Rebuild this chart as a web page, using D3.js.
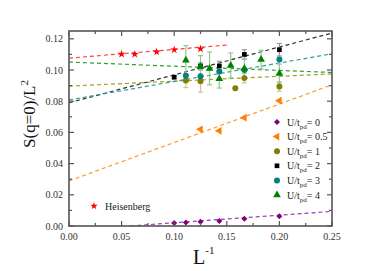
<!DOCTYPE html>
<html>
<head>
<meta charset="utf-8">
<script src="https://cdn.jsdelivr.net/npm/d3@7"></script>
<style>
  body { margin: 0; background: #fff; }
  text { font-family: "Liberation Serif", "DejaVu Serif", serif; }
</style>
</head>
<body>
<div class="chart"></div>
<script>
// DATA ------------------------------------
const xTicks = [0, 0.05, 0.10, 0.15, 0.20, 0.25]
const yTicks = [0, 0.02, 0.04, 0.06, 0.08, 0.10, 0.12]

// Heisenberg
const heisX = [0.05, 0.0625, 0.0833, 0.1, 0.125]
const heisY = [0.1102, 0.1101, 0.1116, 0.1130, 0.1136]
const heisFitX = [0, 0.15]
const heisFitY = [0.1076, 0.1160]

// U/tpd = 0
const u0X = [0.1, 0.1111, 0.125, 0.1429, 0.1667, 0.2]
const u0Y = [0.0019, 0.0022, 0.0028, 0.0032, 0.0047, 0.0062]
const u0FitX = [0.058, 0.25]
const u0FitY = [0, 0.0094]

// U/tpd = 0.5
const u05X = [0.125, 0.1429, 0.1667, 0.2]
const u05Y = [0.0620, 0.0610, 0.0694, 0.0803]
const u05FitX = [0, 0.25]
const u05FitY = [0.0289, 0.0905]

// U/tpd = 1
const u1X = [0.1111, 0.125, 0.1581, 0.1667, 0.2]
const u1Y = [0.0932, 0.0928, 0.0883, 0.0948, 0.0894]
const u1Err = [0.0045, 0.007, 0, 0.003, 0.003]
const u1FitX = [0, 0.25]
const u1FitY = [0.0897, 0.0975]

// U/tpd = 2
const u2X = [0.1, 0.125, 0.1429, 0.1667, 0.2]
const u2Y = [0.0954, 0.1025, 0.1026, 0.1100, 0.1130]
const u2Err = [0.001, 0.002, 0.003, 0.003, 0.004]
const u2FitX = [0, 0.25]
const u2FitY = [0.0790, 0.1237]

// U/tpd = 3
const u3X = [0.1111, 0.125, 0.1429, 0.1667, 0.2]
const u3Y = [0.0964, 0.0960, 0.0990, 0.1000, 0.1068]
const u3FitX = [0, 0.25]
const u3FitY = [0.0808, 0.1104]

// U/tpd = 4
const u4X = [0.1111, 0.125, 0.1336, 0.1429, 0.1537, 0.1667, 0.1826, 0.2]
const u4Y = [0.1062, 0.1022, 0.1010, 0.0944, 0.1029, 0.1010, 0.1067, 0.0978]
const u4Err = [0.0095, 0.007, 0.0105, 0.006, 0.008, 0.006, 0.006, 0.006]
const u4FitX = [0, 0.25]
const u4FitY = [0.1051, 0.0984]

const legendLabels = ["0", "0.5", "1", "2", "3", "4"]

// CHART INIT ------------------------------
const margin = {top: 31, right: 54, bottom: 45, left: 69}
const width = 386 - margin.left - margin.right
const height = 271 - margin.top - margin.bottom

const svg_base = d3.select(".chart").append("svg")
        .attr("width", 386)
        .attr("height", 271)
const svg = svg_base.append("g")
        .attr("transform", `translate(${margin.left},${margin.top})`)

const xScale = d3.scaleLinear().domain([0, 0.25]).range([0, width])
const yScale = d3.scaleLinear().domain([0, 0.125]).range([height, 0])

const zip = (xs, ys) => xs.map((x, i) => ({x: x, y: ys[i]}))

const series = [
    {pts: zip(u0X, u0Y), fit: zip(u0FitX, u0FitY), color: "#800080", line: "#a040b0", sym: d3.symbolSquare, size: 18, rot: 45},
    {pts: zip(u05X, u05Y), fit: zip(u05FitX, u05FitY), color: "#ff8000", line: "#ff9a30", sym: d3.symbolTriangle, size: 26, rot: -90},
    {pts: zip(u1X, u1Y), fit: zip(u1FitX, u1FitY), err: u1Err, color: "#808000", line: "#a0a020", sym: d3.symbolCircle, size: 28, errColor: "#c8c890"},
    {pts: zip(u2X, u2Y), fit: zip(u2FitX, u2FitY), err: u2Err, color: "#000000", line: "#333333", sym: d3.symbolSquare, size: 22, errColor: "#999"},
    {pts: zip(u3X, u3Y), fit: zip(u3FitX, u3FitY), color: "#008080", line: "#30a0a0", sym: d3.symbolCircle, size: 28},
    {pts: zip(u4X, u4Y), fit: zip(u4FitX, u4FitY), err: u4Err, color: "#008000", line: "#30a030", sym: d3.symbolTriangle, size: 26, errColor: "#90c890"},
    {pts: zip(heisX, heisY), fit: zip(heisFitX, heisFitY), color: "#ff0000", line: "#ff4040", sym: d3.symbolStar, size: 20}
]

// clip for fit lines
svg.append("clipPath").attr("id", "plot-clip")
    .append("rect").attr("width", width).attr("height", height)

const line = d3.line().x(d => xScale(d.x)).y(d => yScale(d.y))

// fit lines
svg.append("g").attr("clip-path", "url(#plot-clip)")
    .selectAll("path")
    .data(series)
    .join("path")
        .attr("d", d => line(d.fit))
        .attr("fill", "none")
        .attr("stroke", d => d.line)
        .attr("stroke-width", 1.2)
        .attr("stroke-dasharray", "4,3")

// error bars
series.filter(s => s.err).forEach(s => {
    const g = svg.append("g").attr("stroke", s.errColor).attr("stroke-width", 1.2)
    s.pts.forEach((p, i) => {
        const e = s.err[i]
        if (!e) return
        const cx = xScale(p.x), y1 = yScale(p.y - e), y2 = yScale(p.y + e)
        g.append("line").attr("x1", cx).attr("x2", cx).attr("y1", y1).attr("y2", y2)
        g.append("line").attr("x1", cx - 2.5).attr("x2", cx + 2.5).attr("y1", y1).attr("y2", y1)
        g.append("line").attr("x1", cx - 2.5).attr("x2", cx + 2.5).attr("y1", y2).attr("y2", y2)
    })
})

// markers
series.forEach(s => {
    svg.append("g").selectAll("path")
        .data(s.pts)
        .join("path")
            .attr("d", d3.symbol().type(s.sym).size(s.size))
            .attr("transform", d => `translate(${xScale(d.x)},${yScale(d.y)}) rotate(${s.rot || 0})`)
            .attr("fill", s.color)
})

// AXES ------------------------------------
const axisColor = "#555"
const frame = svg.append("g")
frame.append("rect")
    .attr("width", width).attr("height", height)
    .attr("fill", "none").attr("stroke", axisColor).attr("stroke-width", 1.6)

const xMinor = d3.range(0, 0.2501, 0.025)
const yMinor = d3.range(0, 0.1251, 0.01)

// x ticks bottom & top (inward)
xMinor.forEach((v, i) => {
    const len = i % 2 === 0 ? 5 : 3
    const px = xScale(v)
    frame.append("line").attr("x1", px).attr("x2", px).attr("y1", height).attr("y2", height - len)
        .attr("stroke", axisColor).attr("stroke-width", 1.2)
    frame.append("line").attr("x1", px).attr("x2", px).attr("y1", 0).attr("y2", len)
        .attr("stroke", axisColor).attr("stroke-width", 1.2)
})
yMinor.forEach((v, i) => {
    const len = i % 2 === 0 ? 5 : 3
    const py = yScale(v)
    frame.append("line").attr("x1", 0).attr("x2", len).attr("y1", py).attr("y2", py)
        .attr("stroke", axisColor).attr("stroke-width", 1.2)
    frame.append("line").attr("x1", width).attr("x2", width - len).attr("y1", py).attr("y2", py)
        .attr("stroke", axisColor).attr("stroke-width", 1.2)
})

svg.append("g").selectAll("text")
    .data(xTicks)
    .join("text")
        .attr("x", d => xScale(d))
        .attr("y", height + 14)
        .attr("text-anchor", "middle")
        .attr("font-size", 10)
        .attr("fill", "#333")
        .text(d3.format(".2f"))

svg.append("g").selectAll("text")
    .data(yTicks)
    .join("text")
        .attr("x", -6)
        .attr("y", d => yScale(d))
        .attr("dy", "0.35em")
        .attr("text-anchor", "end")
        .attr("font-size", 10)
        .attr("fill", "#333")
        .text(d3.format(".2f"))

// axis titles
const yLabel = svg_base.append("text")
    .attr("transform", "translate(35,114) rotate(-90)")
    .attr("text-anchor", "middle")
    .attr("font-size", 17)
    .attr("fill", "#111")
yLabel.append("tspan").text("S(q=0)/L")
yLabel.append("tspan").attr("font-size", 11).attr("dy", -7).text("2")

const xLabel = svg_base.append("text")
    .attr("x", 193)
    .attr("y", 264)
    .attr("font-size", 20)
    .attr("fill", "#111")
xLabel.append("tspan").text("L")
xLabel.append("tspan").attr("font-size", 11).attr("dy", -10).text("-1")

// LEGEND ----------------------------------
const legend = svg_base.append("g").attr("transform", "translate(277,122)")
series.slice(0, 6).forEach((s, i) => {
    const row = legend.append("g").attr("transform", `translate(0,${i * 14.6})`)
    row.append("path")
        .attr("d", d3.symbol().type(s.sym).size(s.size))
        .attr("transform", `rotate(${s.rot || 0})`)
        .attr("fill", s.color)
    const t = row.append("text")
        .attr("x", 10)
        .attr("dy", "0.35em")
        .attr("font-size", 10)
        .attr("fill", "#222")
    t.append("tspan").text("U/t")
    t.append("tspan").attr("font-size", 7).attr("dy", 3).text("pd")
    t.append("tspan").attr("dy", -3).text("= " + legendLabels[i])
})

const heisLegend = svg_base.append("g").attr("transform", "translate(94,206)")
heisLegend.append("path")
    .attr("d", d3.symbol().type(d3.symbolStar).size(18))
    .attr("fill", "#ff0000")
heisLegend.append("text")
    .attr("x", 11)
    .attr("dy", "0.35em")
    .attr("font-size", 10)
    .attr("fill", "#222")
    .text("Heisenberg")
</script>
</body>
</html>
